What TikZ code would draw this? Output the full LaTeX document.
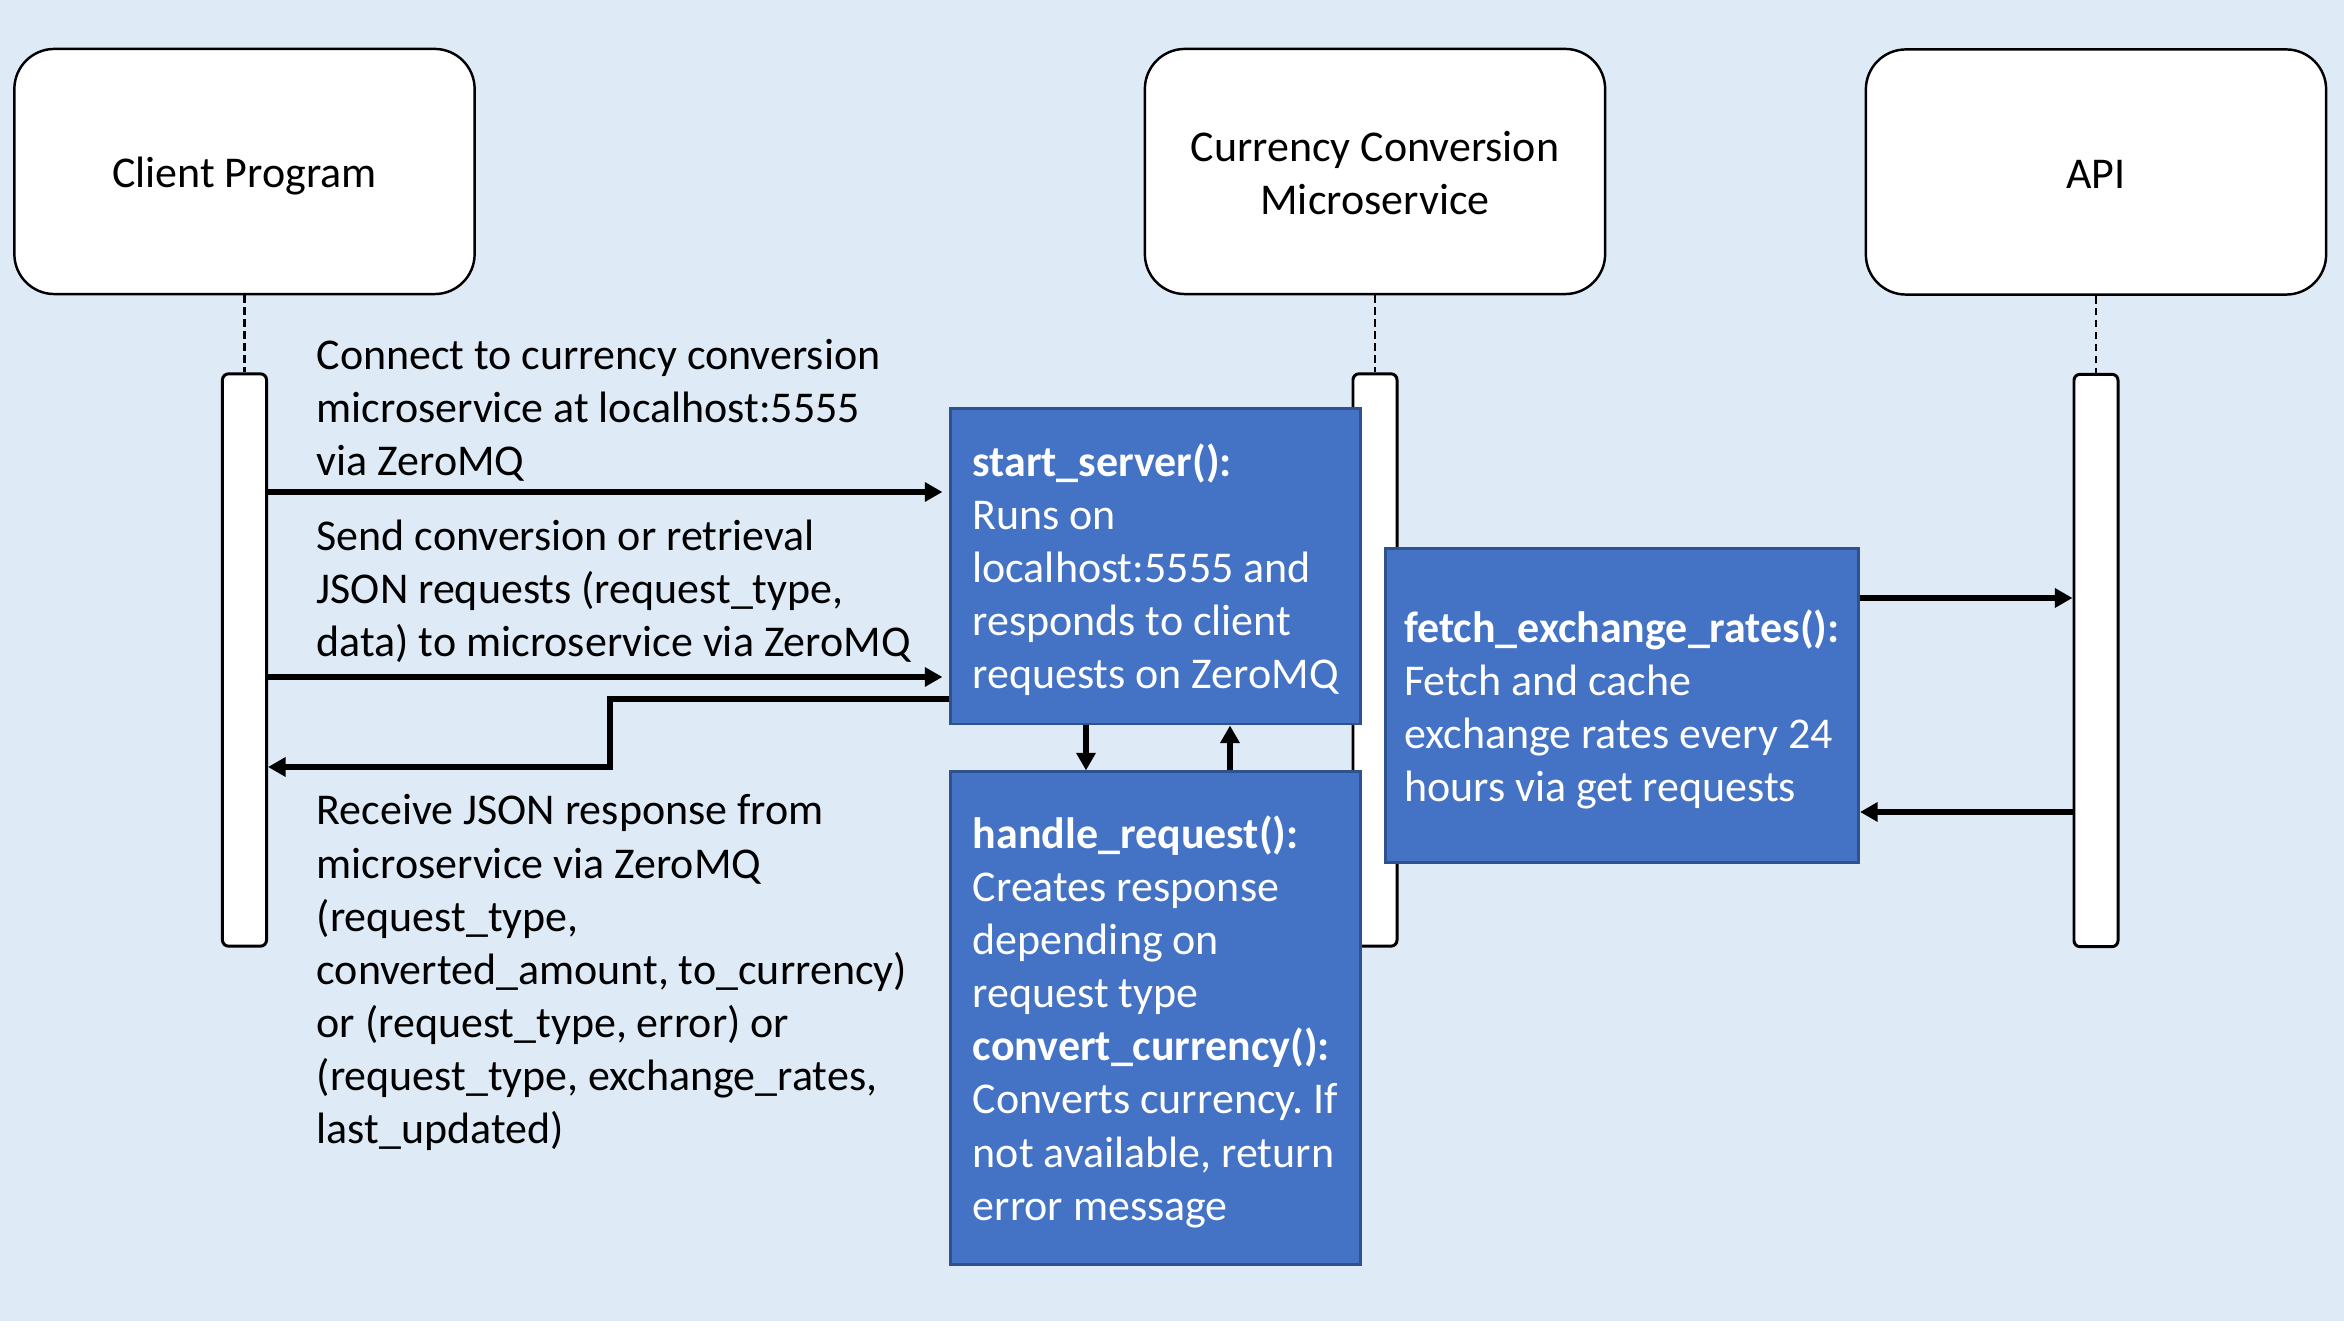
\documentclass[tikz,border=0pt]{standalone}
\usepackage{fontspec}
\setmainfont{Carlito}
\usetikzlibrary{arrows.meta}
\frenchspacing

\definecolor{bgblue}{HTML}{DEEBF7}
\definecolor{boxblue}{HTML}{4472C4}
\definecolor{boxedge}{HTML}{2F528F}

% text rows with a fixed line pitch (first row a little taller)
\newcommand{\toprow}{\rule{0pt}{13.8pt}}
\newcommand{\leftrows}[1]{\begin{tabular}{@{}l@{}}\toprow#1\end{tabular}}
\newcommand{\centerrows}[1]{\begin{tabular}{@{}c@{}}\toprow#1\end{tabular}}

\tikzset{
	actor/.style={draw=black, line width=0.7pt, fill=white, rounded corners=0.4cm,
		minimum width=4.6cm, minimum height=2.45cm, inner sep=0pt},
	lifebar/.style={draw=black, line width=0.85pt, fill=white, rounded corners=0.06cm,
		minimum width=0.44cm, minimum height=5.72cm, inner sep=0pt},
	lifeline/.style={line width=0.6pt, dash pattern=on 2.2pt off 1.2pt},
	funcbox/.style={draw=boxedge, line width=0.8pt, fill=boxblue, text=white, inner sep=0pt},
	msgtext/.style={inner sep=0pt, anchor=west},
	msg/.style={line width=1.7pt, -{Triangle[length=5pt,width=5.3pt]}}
}

\begin{document}
\begin{tikzpicture}[x=0.01cm, y=-0.01cm, font=\fontsize{12.5}{15.1}\selectfont]

		% background
		\fill[bgblue] (0,0) rectangle (2344,1321);
		\useasboundingbox (0,0) rectangle (2344,1328);

		% participants
		\node[actor] (client) at (244.5,171.5) {\centerrows{Client Program}};
		\node[actor] (micro) at (1375,171.5) {\centerrows{Currency Conversion\\Microservice}};
		\node[actor] (api) at (2096,172) {\centerrows{API}};

		% lifelines and activation bars
		\node[lifebar] (clientbar) at (244.5,660) {};
		\node[lifebar] (microbar) at (1375,660) {};
		\node[lifebar] (apibar) at (2096,660.5) {};
		\draw[lifeline] (client.south) -- (clientbar.north);
		\draw[lifeline] (micro.south) -- (microbar.north);
		\draw[lifeline] (api.south) -- (apibar.north);

		% functions of the microservice
		\node[funcbox, minimum width=4.09cm, minimum height=3.15cm] (startsrv) at (1155.5,566.5)
			{\leftrows{\textbf{start\_server():}\\Runs on\\localhost:5555 and\\responds to client\\requests on ZeroMQ}};
		\node[funcbox, minimum width=4.09cm, minimum height=4.92cm] (handlereq) at (1155.5,1018)
			{\leftrows{\textbf{handle\_request():}\\Creates response\\depending on\\request type\\\textbf{convert\_currency():}\\Converts currency. If\\not available, return\\error message}};
		\node[funcbox, minimum width=4.73cm, minimum height=3.14cm] (fetchrates) at (1622,705.5)
			{\leftrows{\textbf{fetch\_exchange\_rates():}\\Fetch and cache\\exchange rates every 24\\hours via get requests}};

		% messages
		\node[msgtext] (msgconnect) at (316,406)
			{\leftrows{Connect to currency conversion\\microservice at localhost:5555\\via ZeroMQ}};
		\node[msgtext] (msgsend) at (316,587)
			{\leftrows{Send conversion or retrieval\\JSON requests (request\_type,\\data) to microservice via ZeroMQ}};
		\node[msgtext] (msgrecv) at (316,968)
			{\leftrows{Receive JSON response from\\microservice via ZeroMQ\\(request\_type,\\converted\_amount, to\_currency)\\or (request\_type, error) or\\(request\_type, exchange\_rates,\\last\_updated)}};

		\coordinate (lvlconnect) at (0,492);
		\coordinate (lvlsend) at (0,677);
		\coordinate (retstart) at (610,699);
		\coordinate (retend) at (610,767);
		\coordinate (callx) at (1086,0);
		\coordinate (backx) at (1230,0);
		\coordinate (lvlget) at (0,598);
		\coordinate (lvlrates) at (0,812);

		\draw[msg, shorten >=2pt] (clientbar.east |- lvlconnect) -- (startsrv.west |- lvlconnect);
		\draw[msg, shorten >=2pt] (clientbar.east |- lvlsend) -- (startsrv.west |- lvlsend);
		\draw[msg] (startsrv.west |- retstart) -- (retstart) -- (retend) -- (clientbar.east |- retend);
		\draw[msg] (startsrv.south -| callx) -- (handlereq.north -| callx);
		\draw[msg] (handlereq.north -| backx) -- (startsrv.south -| backx);
		\draw[msg] (fetchrates.east |- lvlget) -- (apibar.west |- lvlget);
		\draw[msg] (apibar.west |- lvlrates) -- (fetchrates.east |- lvlrates);

\end{tikzpicture}
\end{document}
